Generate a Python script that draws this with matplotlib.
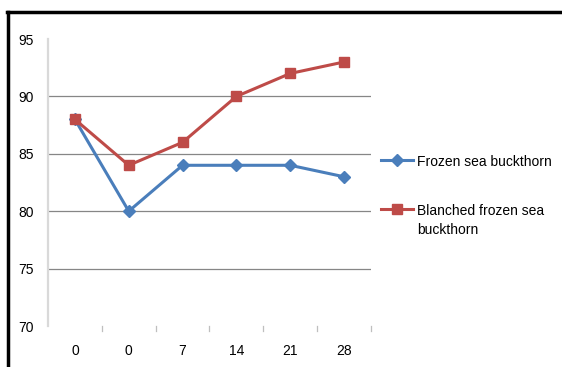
import matplotlib.pyplot as plt
from matplotlib.lines import Line2D

plt.rcParams['font.family'] = ['Liberation Sans', 'DejaVu Sans']

# storage days (the first 0 is the fresh sample)
days = ['0', '0', '7', '14', '21', '28']
frozen = [88, 80, 84, 84, 84, 83]
blanched = [88, 84, 86, 90, 92, 93]
y_ticks = [70, 75, 80, 85, 90, 95]

blue = '#4a7ebb'
red = '#be4b48'

fig = plt.figure(figsize=(5.62, 3.67), dpi=100)
ax = fig.add_axes([0.0854, 0.1117, 0.5747, 0.782])

x = list(range(len(days)))
ax.plot(x, frozen, color=blue, lw=2.2, marker='D', ms=6.5,
        label='Frozen sea buckthorn')
ax.plot(x, blanched, color=red, lw=2.2, marker='s', ms=7.5,
        label='Blanched frozen sea\nbuckthorn')

ax.set_xlim(-0.5, len(days) - 0.5)
ax.set_ylim(70, 95)
ax.set_yticks(y_ticks)
ax.set_yticklabels([str(v) for v in y_ticks], fontsize=10)
ax.set_xticks(x)
ax.set_xticklabels(days, fontsize=10)

# horizontal gridlines, none on the top/bottom edges
for v in y_ticks[1:-1]:
    ax.axhline(v, color='#868686', lw=0.9, zorder=0)

for s in ['top', 'right', 'bottom']:
    ax.spines[s].set_visible(False)
ax.spines['left'].set_color('#d9d9d9')
ax.spines['left'].set_linewidth(1.6)

ax.tick_params(axis='y', length=0, pad=10.5)
ax.tick_params(axis='x', length=0, pad=13)

# category boundary ticks under the plot
for b in [i - 0.5 for i in range(len(days) + 1)][1:]:
    ax.plot([b, b], [70, 69.6], color='#bfbfbf', lw=0.9, clip_on=False)

leg = ax.legend(loc='upper left', bbox_to_anchor=(1.015, 0.615), frameon=False,
                fontsize=10, handlelength=2.3, handletextpad=0.3,
                labelspacing=2.55, borderaxespad=0)
for row in leg._legend_handle_box.get_children()[0].get_children():
    row.align = 'top'
leg.get_texts()[1].set_linespacing(1.4)

# frame lines along top and left edge of the picture
fig.add_artist(Line2D([0.0125, 1.0], [0.968, 0.968], color='black', lw=2.5,
                      transform=fig.transFigure))
fig.add_artist(Line2D([0.0150, 0.0150], [0.0, 0.968], color='black', lw=2.5,
                      transform=fig.transFigure))

fig.savefig('out.png', dpi=100)
